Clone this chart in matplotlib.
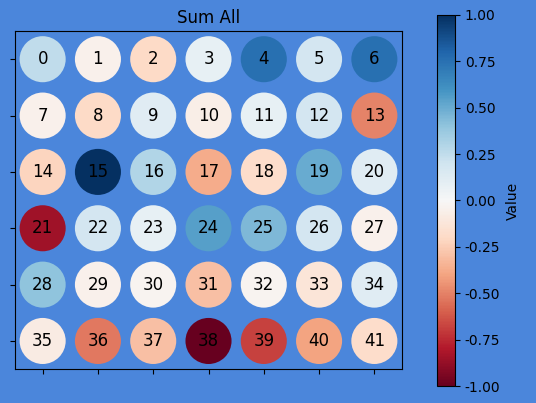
import matplotlib
matplotlib.use("Agg")
import matplotlib.pyplot as plt
import numpy as np

labels = list(range(42))
values = [0.25, -0.05, -0.20, 0.08, 0.75, 0.18, 0.75,
          -0.05, -0.20, 0.12, -0.07, 0.08, 0.18, -0.50,
          -0.22, 1.00, 0.30, -0.37, -0.18, 0.50, 0.12,
          -0.85, 0.18, 0.08, 0.55, 0.45, 0.18, -0.05,
          0.40, -0.05, -0.03, -0.30, -0.03, -0.13, 0.12,
          -0.08, -0.53, -0.30, -1.00, -0.68, -0.40, -0.18]
ncols = 7
nrows = 6
title = "Sum All"
cbar_label = "Value"
bg = "#4b86db"

fig = plt.figure(figsize=(5.36, 4.03), dpi=100, facecolor=bg)
ax = fig.add_axes([0.028, 0.084, 0.722, 0.839])
ax.set_facecolor(bg)
cax = fig.add_axes([0.815, 0.042, 0.034, 0.921])

xs = np.array([i % ncols for i in labels])
ys = np.array([i // ncols for i in labels])
sc = ax.scatter(xs, ys, c=values, cmap="RdBu", vmin=-1, vmax=1, s=1100, edgecolors="none")
for x, y, lab in zip(xs, ys, labels):
    ax.text(x, y, str(lab), ha="center", va="center", fontsize=12, color="black")
ax.set_xlim(-0.5, ncols - 0.5)
ax.set_ylim(nrows - 0.5, -0.5)
ax.set_xticks(range(ncols))
ax.set_yticks(range(nrows))
ax.set_xticklabels([])
ax.set_yticklabels([])
ax.set_title(title, fontsize=12)

cb = fig.colorbar(sc, cax=cax)
cb.set_label(cbar_label)
cb.set_ticks([-1, -0.75, -0.5, -0.25, 0, 0.25, 0.5, 0.75, 1.0])
cb.ax.yaxis.set_major_formatter(matplotlib.ticker.FormatStrFormatter("%.2f"))

fig.savefig("out.png", dpi=100, facecolor=bg)
